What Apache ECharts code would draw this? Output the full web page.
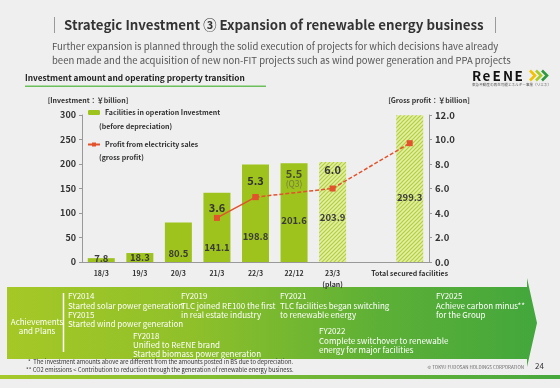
<!DOCTYPE html>
<html><head><meta charset="utf-8">
<script src="https://cdn.jsdelivr.net/npm/echarts@6/dist/echarts.min.js"></script>
<style>html,body{margin:0;padding:0;background:#efefef}#c{width:560px;height:388px}</style>
</head><body><div id="c"></div>
<script>
// ---- data ----
const categories = ['18/3','19/3','20/3','21/3','22/3','22/12','23/3\n(plan)','','Total secured facilities'];
const investment = [7.8, 18.3, 80.5, 141.1, 198.8, 201.6, 203.9, null, 299.3];
const isPlan = [false, false, false, false, false, false, true, false, true];
const profitActual = [null, null, null, 3.6, 5.3, null, null, null, null];
const profitPlan = [null, null, null, null, 5.3, null, 6.0, null, 9.7];
const profitQ3 = [null, null, null, null, null, 5.5, null, null, null];
const profitLabelShown = [false, false, false, true, true, false, true, false, false];
const leftAxis = {min: 0, max: 300, interval: 50};
const rightAxis = {min: 0, max: 12, interval: 2};

// ---- styles (not data) ----
const barLabelLift = [4, 4.5, 9, 15, 26, 42, 45, 0, 65];
const lineLabelDist = [0, 0, 0, 1.5, 7.5, 0, 10, 0, 0];
const FONT = '"Noto Sans CJK JP","Noto Sans",sans-serif';
const GREEN = '#9ec31c';
const RED = '#e2532d';
const DARK = '#333333';

function hatch() {
  const c = document.createElement('canvas');
  c.width = 4; c.height = 4;
  const g = c.getContext('2d');
  g.fillStyle = '#e3eea8'; g.fillRect(0, 0, 4, 4);
  g.strokeStyle = '#b2d03a'; g.lineWidth = 1.2;
  g.beginPath(); g.moveTo(0, 4); g.lineTo(4, 0); g.stroke();
  g.beginPath(); g.moveTo(-1, 1); g.lineTo(1, -1); g.stroke();
  g.beginPath(); g.moveTo(3, 5); g.lineTo(5, 3); g.stroke();
  return {image: c, repeat: 'repeat'};
}
const HATCH = hatch();

const chart = echarts.init(document.getElementById('c'), null, {renderer: 'canvas'});

function T(x, y, text, size, o) {
  o = o || {};
  return {
    type: 'text', x: x, y: y, silent: true,
    style: {
      text: text,
      font: (o.weight || 'normal') + ' ' + size + 'px ' + FONT,
      fill: o.color || DARK,
      align: o.align || 'left', textAlign: o.align || 'left',
      verticalAlign: 'middle', textVerticalAlign: 'middle',
      lineHeight: o.lh
    }
  };
}
function L(x1, y1, x2, y2, color, w) {
  return {type: 'line', silent: true, shape: {x1, y1, x2, y2}, style: {stroke: color, lineWidth: w || 1}};
}
function chevron(x, color) {
  return {type: 'polyline', silent: true, shape: {points: [[x, 70.5], [x + 5, 75.5], [x, 80.5]]},
    style: {stroke: color, lineWidth: 2.6, fill: null}};
}

const W = '#ffffff';
const logoLetters = ['R', 'e', 'E', 'N', 'E'];
const logoX = [472, 482.5, 492.5, 503, 514.5];
const graphics = [
  // title
  L(54.5, 17, 54.5, 33, '#9a9a9a', 1),
  L(495.5, 17, 495.5, 33, '#9a9a9a', 1),
  T(64, 25, 'Strategic Investment ③ Expansion of renewable energy business', 13.3, {weight: 'bold', color: '#333'}),
  T(52, 46, 'Further expansion is planned through the solid execution of projects for which decisions have already', 9.5, {color: '#555'}),
  T(52, 60, 'been made and the acquisition of new non-FIT projects such as wind power generation and PPA projects', 9.5, {color: '#555'}),
  T(25, 78, 'Investment amount and operating property transition', 8.3, {weight: 'bold', color: '#222'}),
  {type: 'rect', silent: true, shape: {x: 25, y: 85.5, width: 241, height: 1.6}, style: {fill: '#6cbf5a'}},
  // logo
  ...logoLetters.map((ch, i) => T(logoX[i], 76, ch, 13.5, {weight: 'bold', color: '#111'})),
  chevron(530, '#f2c200'), chevron(536, '#a9cc25'), chevron(542, '#2f9a3c'),
  T(472, 85, '東急不動産の再生可能エネルギー事業（リエネ）', 3.6, {color: '#555'}),
  // legend sub lines
  T(99, 126.5, '(before depreciation)', 7, {weight: 'bold'}),
  T(99, 157, '(gross profit)', 7, {weight: 'bold'}),
  // arrow band
  {type: 'polygon', silent: true, z: -1,
    shape: {points: [[7, 287], [527, 287], [527, 278], [537, 323], [527, 367], [527, 359], [7, 359]]},
    style: {fill: new echarts.graphic.LinearGradient(0, 0, 1, 0, [
      {offset: 0, color: '#a5c826'}, {offset: 0.35, color: '#8fc02a'},
      {offset: 0.7, color: '#5db036'}, {offset: 1, color: '#43a73c'}])}},
  T(37, 322, 'Achievements', 8, {color: W, align: 'center'}),
  T(37, 331, 'and Plans', 8, {color: W, align: 'center'}),
  L(63.5, 293, 63.5, 352, W, 1.5),
  T(68, 296, 'FY2014', 8, {color: W}),
  T(68, 305.5, 'Started solar power generation', 8, {color: W}),
  T(68, 314.5, 'FY2015', 8, {color: W}),
  T(68, 324, 'Started wind power generation', 8, {color: W}),
  T(133, 336, 'FY2018', 8, {color: W}),
  T(133, 345, 'Unified to ReENE brand', 8, {color: W}),
  T(133, 354, 'Started biomass power generation', 8, {color: W}),
  T(181, 296, 'FY2019', 8, {color: W}),
  T(181, 305.5, 'TLC joined RE100 the first', 8, {color: W}),
  T(181, 314.5, 'in real estate industry', 8, {color: W}),
  T(280, 296, 'FY2021', 8, {color: W}),
  T(280, 305.5, 'TLC facilities began switching', 8, {color: W}),
  T(280, 314.5, 'to renewable energy', 8, {color: W}),
  T(319, 331, 'FY2022', 8, {color: W}),
  T(319, 340.5, 'Complete switchover to renewable', 8, {color: W}),
  T(319, 349.5, 'energy for major facilities', 8, {color: W}),
  T(436, 296, 'FY2025', 8, {color: W}),
  T(436, 305.5, 'Achieve carbon minus**', 8, {color: W}),
  T(436, 314.5, 'for the Group', 8, {color: W}),
  // footnotes
  T(28, 362, '*  The investment amounts above are different from the amounts posted in BS due to depreciation.', 5.8, {color: '#333'}),
  T(26, 370, '** CO2 emissions < Contribution to reduction through the generation of renewable energy business.', 5.8, {color: '#333'}),
  T(524, 367, '© TOKYU FUDOSAN HOLDINGS CORPORATION', 4.5, {color: '#666', align: 'right'}),
  T(535, 366, '24', 8, {color: '#333'}),
  {type: 'rect', silent: true, shape: {x: 0, y: 375, width: 560, height: 4},
    style: {fill: new echarts.graphic.LinearGradient(0, 0, 1, 0, [
      {offset: 0, color: '#a6c92a'}, {offset: 1, color: '#47a83e'}])}}
];

const axisLabelBase = {fontFamily: FONT, fontWeight: 'bold', color: DARK};
const lineLabel = {fontFamily: FONT, fontWeight: 'bold', fontSize: 11, color: '#333', formatter: p => Number(p.value).toFixed(1)};

const option = {
  animation: false,
  backgroundColor: '#efefef',
  textStyle: {fontFamily: FONT},
  grid: {left: 82, right: 131, top: 115, bottom: 126, containLabel: false},
  legend: {
    orient: 'vertical', left: 82, top: 104,
    itemWidth: 12, itemHeight: 5, itemGap: 25,
    data: ['Facilities in operation Investment', 'Profit from electricity sales'],
    textStyle: {fontFamily: FONT, fontWeight: 'bold', fontSize: 7, color: DARK}
  },
  xAxis: {
    type: 'category', data: categories,
    axisLine: {lineStyle: {color: '#999'}},
    axisTick: {show: false},
    axisLabel: Object.assign({fontSize: 7, margin: 6, interval: 0, lineHeight: 11}, axisLabelBase)
  },
  yAxis: [
    {type: 'value', min: leftAxis.min, max: leftAxis.max, interval: leftAxis.interval,
      name: '[Investment：￥billion]', nameGap: 11,
      nameTextStyle: {fontFamily: FONT, fontSize: 7, fontWeight: 'bold', color: DARK, padding: [0, 0, 0, 12]},
      axisLine: {show: true, lineStyle: {color: '#999'}},
      axisTick: {show: true, length: 3, lineStyle: {color: '#999'}},
      splitLine: {show: false},
      axisLabel: Object.assign({fontSize: 9, margin: 6}, axisLabelBase)},
    {type: 'value', min: rightAxis.min, max: rightAxis.max, interval: rightAxis.interval,
      name: '[Gross profit：￥billion]', nameGap: 11,
      nameTextStyle: {fontFamily: FONT, fontSize: 7, fontWeight: 'bold', color: DARK},
      axisLine: {show: true, lineStyle: {color: '#999'}},
      axisTick: {show: true, length: 3, lineStyle: {color: '#999'}},
      splitLine: {show: false},
      axisLabel: Object.assign({fontSize: 9.5, margin: 6, formatter: v => v.toFixed(1)}, axisLabelBase)}
  ],
  series: [
    {
      name: 'Facilities in operation Investment', type: 'bar', yAxisIndex: 0, barWidth: 27,
      itemStyle: {color: GREEN},
      data: investment.map((v, i) => v == null ? null : {
        value: v,
        itemStyle: {color: isPlan[i] ? HATCH : GREEN},
        label: {show: true, position: 'insideBottom', distance: 0,
          offset: [0, -(barLabelLift[i] - 4.75)],
          fontFamily: FONT, fontWeight: 'bold', fontSize: 9.5, color: '#3a3a3a'}
      }),
      z: 2
    },
    {
      name: 'Profit from electricity sales', type: 'line', yAxisIndex: 1,
      color: RED, symbol: 'rect', symbolSize: 6,
      lineStyle: {color: RED, width: 1.5}, itemStyle: {color: RED},
      data: profitActual.map((v, i) => v == null ? null : {
        value: v,
        label: Object.assign({show: profitLabelShown[i], position: 'top', distance: lineLabelDist[i]}, lineLabel)
      }),
      z: 4
    },
    {
      name: 'Profit (plan)', type: 'line', yAxisIndex: 1, connectNulls: true,
      color: RED, symbol: 'rect', symbolSize: 6, showAllSymbol: true,
      lineStyle: {color: RED, width: 1.5, type: [4, 2]}, itemStyle: {color: RED},
      data: profitPlan.map((v, i) => v == null ? null : {
        value: v,
        label: Object.assign({show: profitLabelShown[i] && profitActual[i] == null, position: 'top', distance: lineLabelDist[i]}, lineLabel)
      }),
      z: 3
    },
    {
      name: 'Profit Q3', type: 'scatter', yAxisIndex: 1, symbolSize: 0,
      data: profitQ3,
      label: {show: true, position: 'top', distance: 5.6,
        formatter: p => '{v|' + p.value.toFixed(1) + '}\n{q|(Q3)}',
        rich: {
          v: {fontFamily: FONT, fontWeight: 'bold', fontSize: 11, lineHeight: 11, color: '#333', align: 'center'},
          q: {fontFamily: FONT, fontSize: 8.5, lineHeight: 10, color: '#6a6a4a', align: 'center'}
        }},
      z: 5
    }
  ],
  graphic: graphics
};
chart.setOption(option);
</script></body></html>
